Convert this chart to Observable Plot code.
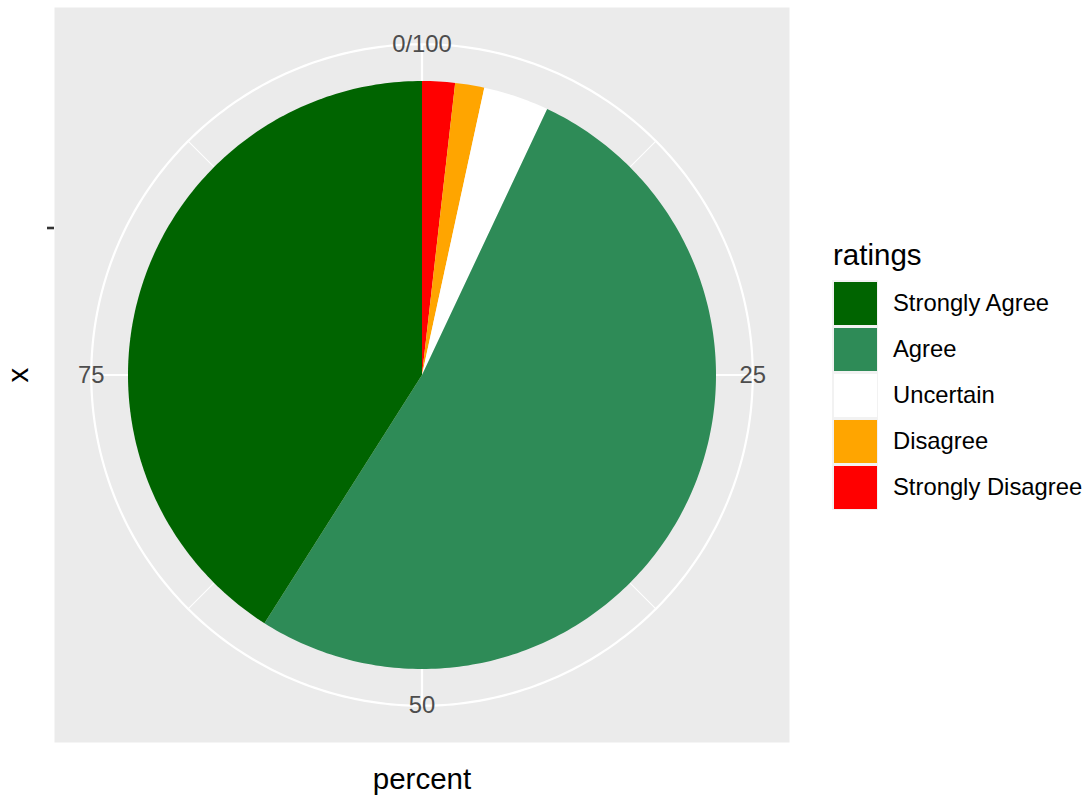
<!DOCTYPE html>
<html><head><meta charset="utf-8">
<script src="https://cdn.jsdelivr.net/npm/d3@7"></script>
<script src="https://cdn.jsdelivr.net/npm/@observablehq/plot@0.6"></script>
<style>
body{margin:0;background:#fff;font-family:"Liberation Sans",Arial,sans-serif;}
#wrap{position:relative;width:1092px;height:801px;overflow:hidden;}
#wrap svg{position:absolute;left:0;top:0;overflow:visible;}
.lg-title{position:absolute;left:833px;font-size:29.5px;color:#000;line-height:1;}
.lg-key{position:absolute;left:832px;width:46px;height:46px;background:#F2F2F2;}
.lg-key div{position:absolute;left:1.5px;top:1.5px;width:43px;height:43px;}
.lg-text{position:absolute;left:893px;font-size:23.8px;color:#000;line-height:46px;height:46px;white-space:nowrap;}
</style></head><body><div id="wrap"></div>
<script>
// data
const ratings = ["Strongly Agree","Agree","Uncertain","Disagree","Strongly Disagree"];
const percents = [41.0, 52.0, 3.6, 1.6, 1.8];
const colors = ["#006400","#2E8B57","#FFFFFF","#FFA500","#FF0000"];
const thetaTicks = [0, 25, 50, 75];
const thetaLabels = ["0/100", "25", "50", "75"];
const thetaMinor = [12.5, 37.5, 62.5, 87.5];
const rTick = [0.4];

const R_PIE = 0.8, R_GRID = 0.9;
const pt = (p, r) => ({x: r * Math.sin(2 * Math.PI * p / 100), y: r * Math.cos(2 * Math.PI * p / 100)});

// stacked (ggplot stacks last level first)
const slicePts = [];
let cum = 0;
for (let i = ratings.length - 1; i >= 0; i--) {
  const start = cum, end = cum + percents[i];
  slicePts.push({rating: ratings[i], ...pt(0, 0)});
  const n = Math.max(2, Math.ceil((end - start) * 4));
  for (let k = 0; k <= n; k++) slicePts.push({rating: ratings[i], ...pt(start + (end - start) * k / n, R_PIE)});
  slicePts.push({rating: ratings[i], ...pt(0, 0)});
  cum = end;
}
const circlePts = d3.range(0, 100.25, 0.25).map(p => pt(p, R_GRID));
const spoke = (p) => ({x1: 0, y1: 0, x2: pt(p, R_GRID).x, y2: pt(p, R_GRID).y});

const plot = Plot.plot({
  width: 800, height: 801,
  marginLeft: 54, marginRight: 11, marginTop: 7, marginBottom: 59,
  x: {domain: [-1, 1], axis: null},
  y: {domain: [-1, 1], axis: null},
  color: {domain: ratings, range: colors},
  style: {fontFamily: '"Liberation Sans", Arial, sans-serif', background: "transparent", overflow: "visible"},
  marks: [
    Plot.frame({fill: "#EBEBEB", stroke: null}),
    Plot.link(thetaMinor.map(spoke), {x1: "x1", y1: "y1", x2: "x2", y2: "y2", stroke: "white", strokeWidth: 1.1}),
    Plot.link(thetaTicks.map(spoke), {x1: "x1", y1: "y1", x2: "x2", y2: "y2", stroke: "white", strokeWidth: 2.2}),
    Plot.line(circlePts, {x: "x", y: "y", stroke: "white", strokeWidth: 2.2}),
    Plot.line(slicePts, {x: "x", y: "y", z: "rating", fill: "rating", stroke: "none"}),
    Plot.text(thetaTicks.map((p, i) => ({...pt(p, R_GRID), label: thetaLabels[i]})), {x: "x", y: "y", text: "label", fill: "#4D4D4D", fontSize: 23.8, textAnchor: "middle", lineAnchor: "middle"}),
    Plot.axisY(rTick, {anchor: "left", tickSize: 7, tickFormat: () => "", stroke: "#333333", strokeWidth: 2.6, label: null}),
    Plot.text(["x"], {frameAnchor: "left", dx: -36, rotate: -90, text: d => d, fontSize: 29.5, fill: "#000", textAnchor: "middle", lineAnchor: "middle"}),
    Plot.text(["percent"], {frameAnchor: "bottom", dy: 37, text: d => d, fontSize: 29.5, fill: "#000", textAnchor: "middle", lineAnchor: "middle"})
  ]
});
const wrap = document.getElementById("wrap");
wrap.appendChild(plot);

// legend
const t = document.createElement("div");
t.className = "lg-title"; t.textContent = "ratings"; t.style.top = "240px";
wrap.appendChild(t);
ratings.forEach((r, i) => {
  const top = 280 + i * 46;
  const k = document.createElement("div");
  k.className = "lg-key"; k.style.top = top + "px";
  const inner = document.createElement("div");
  inner.style.background = colors[i];
  k.appendChild(inner);
  wrap.appendChild(k);
  const tx = document.createElement("div");
  tx.className = "lg-text"; tx.style.top = top + "px"; tx.textContent = r;
  wrap.appendChild(tx);
});
</script></body></html>
